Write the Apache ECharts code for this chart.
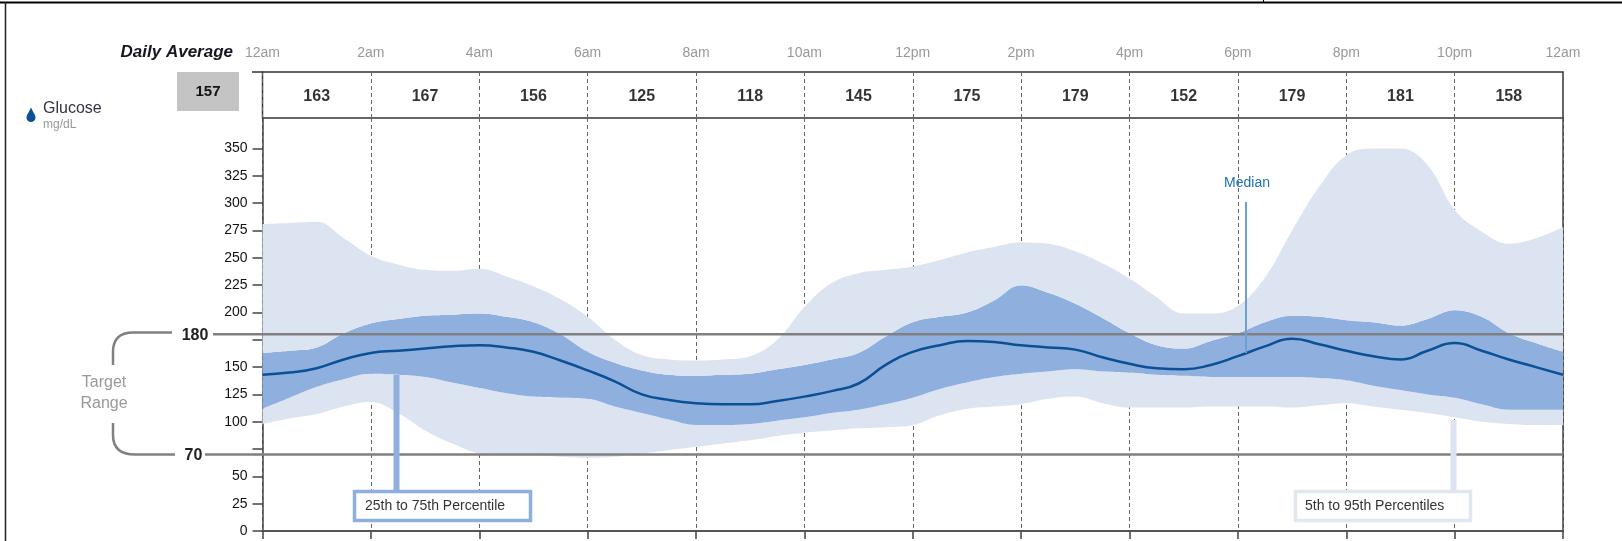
<!DOCTYPE html>
<html>
<head>
<meta charset="utf-8">
<title>Glucose profile</title>
<script src="https://cdn.jsdelivr.net/npm/echarts@6/dist/echarts.min.js"></script>
<style>
  html, body { margin: 0; padding: 0; background: #fff; }
  #chart { width: 1622px; height: 541px; }
</style>
</head>
<body>
<div id="chart"></div>
<script>
// hours of the day, read every half hour
var hours = [0,0.5,1,1.5,2,2.5,3,3.5,4,4.5,5,5.5,6,6.5,7,7.5,8,8.5,9,9.5,10,10.5,11,11.5,12,12.5,13,13.5,14,14.5,15,15.5,16,16.5,17,17.5,18,18.5,19,19.5,20,20.5,21,21.5,22,22.5,23,23.5,24];
var p95 = [281,282,283,268,252,244,239,238,240,233,224,212,196,175,161,157,156,157,160,175,205,227,236,239,242,248,255,260,264,263,256,245,231,214,199,199,206,232,275,315,344,350,350,335,294,274,263,268,278];
var p75 = [163,165,168,181,190,194,197,198,199,196,191,180,164,154,147,143,142,143,144,148,152,157,163,178,191,196,200,211,225,218,208,195,181,170,167,174,181,191,197,196,193,191,188,194,202,196,181,172,164];
var median = [143,145,149,157,163,165,167,169,170,168,164,156,147,137,125,120,117,116,116,119,123,128,135,152,164,170,174,173,170,168,166,159,153,149,148,152,160,169,176,171,165,160,157,165,172,165,157,150,143];
var p25 = [112,122,132,139,144,143,141,136,131,126,123,122,121,114,108,102,97,97,98,101,104,108,111,116,122,130,136,141,144,146,148,146,145,143,142,141,141,141,141,140,138,133,129,125,122,116,111,111,111];
var p5 = [98,103,107,114,118,108,92,80,71,69,69,68,67,68,71,74,77,80,83,87,90,92,94,95,97,106,112,114,116,121,123,117,113,113,113,114,114,114,113,115,117,114,111,108,104,100,98,97,97];

var hourLabels = ['12am','2am','4am','6am','8am','10am','12pm','2pm','4pm','6pm','8pm','10pm','12am'];
var dailyAverages = [163,167,156,125,118,145,175,179,152,179,181,158];
var overallAverage = 157;
var yTicks = [0,25,50,75,100,125,150,175,200,225,250,275,300,325,350];
var yLabels = [0,25,50,100,125,150,200,225,250,275,300,325,350];
var targetHigh = 180;
var targetLow = 70;

var FONT = '"Liberation Sans", Arial, sans-serif';
var DARK_BAND = '#8fb0de';
var LIGHT_BAND = '#dde4f1';
var GUIDE = '#808080';

// stack needs the thickness of each band, not its edge
function diff(upper, lower) {
  return upper.map(function (v, i) { return v - lower[i]; });
}
function band(name, data, color) {
  return {
    name: name,
    type: 'line',
    stack: 'bands',
    xAxisIndex: 1,
    yAxisIndex: 1,
    data: data,
    smooth: 0.4,
    showSymbol: false,
    silent: true,
    z: 3,
    lineStyle: { width: 0 },
    areaStyle: color ? { color: color, opacity: 1 } : { opacity: 0 }
  };
}
function targetLine(v) {
  return {
    type: 'line',
    xAxisIndex: 1,
    yAxisIndex: 1,
    data: hours.map(function () { return v; }),
    showSymbol: false,
    silent: true,
    z: 4,
    lineStyle: { color: GUIDE, width: 2.5 }
  };
}
function text(x, y, str, style) {
  return {
    type: 'text',
    x: x,
    y: y,
    z: 20,
    silent: true,
    style: Object.assign({
      text: str,
      font: '14px ' + FONT,
      fill: '#333',
      textAlign: 'center',
      textVerticalAlign: 'middle'
    }, style || {})
  };
}
function rect(x, y, w, h, style) {
  return { type: 'rect', z: 15, silent: true, shape: { x: x, y: y, width: w, height: h }, style: style };
}
function line(x1, y1, x2, y2, color, width) {
  return {
    type: 'line', z: 15, silent: true,
    shape: { x1: x1, y1: y1, x2: x2, y2: y2 },
    style: { stroke: color, lineWidth: width }
  };
}
function curve(x1, y1, cx, cy, x2, y2) {
  return {
    type: 'bezierCurve', z: 15, silent: true,
    shape: { x1: x1, y1: y1, x2: x2, y2: y2, cpx1: cx, cpy1: cy },
    style: { stroke: GUIDE, lineWidth: 2.5, fill: 'none' }
  };
}

var gridLine = { color: '#666', type: [4, 3], width: 1 };

var myChart = echarts.init(document.getElementById('chart'));
myChart.setOption({
  animation: false,
  backgroundColor: '#fff',
  textStyle: { fontFamily: FONT },
  grid: [
    { left: 262.5, right: 59, top: 72, height: 46, show: true, borderColor: '#333', borderWidth: 1.5, backgroundColor: 'transparent' },
    { left: 262.5, right: 59, top: 118, bottom: 10 }
  ],
  xAxis: [
    {
      gridIndex: 0,
      type: 'value',
      position: 'top',
      min: 0,
      max: 24,
      interval: 2,
      axisLine: { show: false },
      axisTick: { show: false },
      splitLine: { show: true, lineStyle: gridLine },
      axisLabel: {
        show: true,
        margin: 12,
        color: '#999',
        fontSize: 14,
        showMinLabel: true,
        showMaxLabel: true,
        formatter: function (v) { return hourLabels[v / 2]; }
      }
    },
    {
      gridIndex: 1,
      type: 'category',
      boundaryGap: false,
      data: hours,
      axisLine: { show: true, onZero: false, lineStyle: { color: '#555', width: 2 } },
      axisTick: { show: true, interval: 3, length: 8, lineStyle: { color: '#444', width: 1.5 } },
      axisLabel: { show: false },
      splitLine: { show: true, interval: 3, lineStyle: gridLine }
    }
  ],
  yAxis: [
    { gridIndex: 0, type: 'value', min: 0, max: 1, show: false },
    {
      gridIndex: 1,
      type: 'value',
      min: 0,
      max: 378,
      interval: 25,
      axisLine: { show: true, onZero: false, lineStyle: { color: '#444', width: 1.5 } },
      axisTick: { show: true, length: 10, customValues: yTicks, lineStyle: { color: '#444', width: 1.5 } },
      axisLabel: { margin: 15, color: '#111', fontSize: 14, customValues: yLabels },
      splitLine: { show: false }
    },
    {
      gridIndex: 1,
      type: 'value',
      position: 'right',
      min: 0,
      max: 378,
      axisLine: { show: true, onZero: false, lineStyle: { color: '#444', width: 1.5 } },
      axisTick: { show: false },
      axisLabel: { show: false },
      splitLine: { show: false }
    }
  ],
  series: [
    band('base', p5, null),
    band('5th to 25th', diff(p25, p5), LIGHT_BAND),
    band('25th to 75th', diff(p75, p25), DARK_BAND),
    band('75th to 95th', diff(p95, p75), LIGHT_BAND),
    targetLine(targetHigh),
    targetLine(targetLow),
    {
      name: 'Median',
      type: 'line',
      xAxisIndex: 1,
      yAxisIndex: 1,
      data: median,
      smooth: 0.5,
      showSymbol: false,
      silent: true,
      z: 5,
      lineStyle: { color: '#0b5096', width: 2.5 }
    },
    {
      type: 'scatter',
      xAxisIndex: 0,
      yAxisIndex: 0,
      symbolSize: 1,
      silent: true,
      itemStyle: { color: 'transparent' },
      data: dailyAverages.map(function (v, i) { return [i * 2 + 1, 0.47, v]; }),
      label: {
        show: true,
        position: 'inside',
        color: '#000',
        fontSize: 16,
        fontWeight: 'bold',
        formatter: function (p) { return String(p.value[2]); }
      }
    }
  ],
  graphic: [
    // scan frame
    line(0, 2.5, 1622, 2.5, '#000', 2),
    line(5.5, 2, 5.5, 541, '#222', 1.5),
    line(1263.5, 0, 1263.5, 3, '#000', 1),

    // left column
    text(233, 52, 'Daily Average', { font: 'italic bold 17px ' + FONT, fill: '#16161f', textAlign: 'right' }),
    line(252, 72, 263, 72, '#333', 1.5),
    rect(177, 72, 62, 39, { fill: '#c4c4c4' }),
    text(208, 92, String(overallAverage), { font: 'bold 15px ' + FONT, fill: '#111' }),
    // glucose drop
    { type: 'circle', z: 15, silent: true, shape: { cx: 31, cy: 117.5, r: 4.5 }, style: { fill: '#0b5096' } },
    { type: 'polygon', z: 15, silent: true, shape: { points: [[31, 107.5], [35.2, 116], [26.8, 116]] }, style: { fill: '#0b5096' } },
    text(43, 109, 'Glucose', { font: '16px ' + FONT, fill: '#334', textAlign: 'left' }),
    text(43, 125, 'mg/dL', { font: '12px ' + FONT, fill: '#999', textAlign: 'left' }),

    // target range bracket
    line(172, 332.5, 133, 332.5, GUIDE, 2.5),
    curve(133, 332.5, 113, 332.5, 113, 352),
    line(113, 352, 113, 365, GUIDE, 2.5),
    line(113, 423, 113, 435, GUIDE, 2.5),
    curve(113, 435, 113, 454.5, 135, 454.5),
    line(135, 454.5, 175, 454.5, GUIDE, 2.5),
    line(213, 334.3, 263, 334.3, GUIDE, 2.5),
    line(205, 454.5, 263, 454.5, GUIDE, 2.5),
    text(195, 335.5, String(targetHigh), { font: 'bold 16px ' + FONT, fill: '#222' }),
    text(193.5, 455.5, String(targetLow), { font: 'bold 16px ' + FONT, fill: '#222' }),
    text(104, 383, 'Target', { font: '16px ' + FONT, fill: '#999' }),
    text(104, 404, 'Range', { font: '16px ' + FONT, fill: '#999' }),

    // callouts
    text(1247, 183, 'Median', { font: '14px ' + FONT, fill: '#1f6fb5' }),
    line(1246, 202, 1246, 353, '#6f9fcf', 2),
    line(396.5, 375, 396.5, 491, DARK_BAND, 6),
    rect(354.5, 491.5, 176, 29, { fill: '#fff', stroke: DARK_BAND, lineWidth: 3.5 }),
    text(365, 506, '25th to 75th Percentile', { font: '14px ' + FONT, fill: '#333', textAlign: 'left' }),
    line(1453.5, 420, 1453.5, 491, LIGHT_BAND, 6),
    rect(1295.5, 491.5, 175, 29, { fill: '#fff', stroke: '#e2e6f0', lineWidth: 3.5 }),
    text(1305, 506, '5th to 95th Percentiles', { font: '14px ' + FONT, fill: '#333', textAlign: 'left' })
  ]
});
</script>
</body>
</html>
